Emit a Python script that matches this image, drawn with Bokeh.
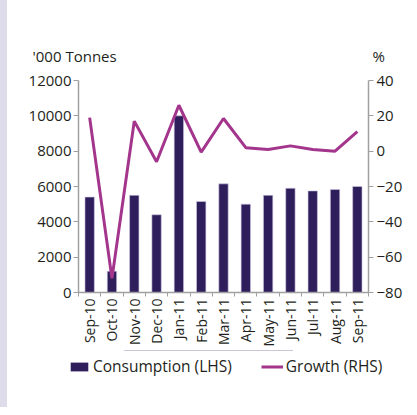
import math
from bokeh.plotting import figure
from bokeh.layouts import column, row
from bokeh.models import (Range1d, LinearAxis, FixedTicker, Legend, LegendItem,
                          ColumnDataSource, Label, Spacer)
from bokeh.embed import file_html
from bokeh.resources import INLINE

months = ["Sep-10", "Oct-10", "Nov-10", "Dec-10", "Jan-11", "Feb-11", "Mar-11",
          "Apr-11", "May-11", "Jun-11", "Jul-11", "Aug-11", "Sep-11"]
consumption = [5400, 1200, 5500, 4400, 10000, 5150, 6150, 5000, 5500, 5900, 5750, 5830, 6000]
growth = [19, -72, 17, -6, 26, -0.5, 18.5, 2, 1, 3, 1, 0, 11]
left_ticks = [0, 2000, 4000, 6000, 8000, 10000, 12000]
right_ticks = [-80, -60, -40, -20, 0, 20, 40]
left_title = "'000 Tonnes"
right_title = "%"
series_names = ["Consumption (LHS)", "Growth (RHS)"]

FONT = "Open Sans"
TXT = "#231f20"
AX = "#a0a0a0"
BAR = "#2f1e5c"
LINE = "#a3358c"
W = 402

# ---------- top strip with the two axis titles ----------
top = figure(width=W, height=70, output_backend="svg", toolbar_location=None,
             x_range=Range1d(0, W), y_range=Range1d(0, 70),
             x_axis_location=None, y_axis_location=None, min_border=0)
top.grid.visible = False
top.outline_line_color = None
top.add_layout(Label(x=25, y=15, text=left_title, text_font=FONT,
                     text_font_size="15px", text_color=TXT,
                     text_baseline="middle", text_align="left"))
top.add_layout(Label(x=365, y=15, text=right_title, text_font=FONT,
                     text_font_size="15px", text_color=TXT,
                     text_baseline="middle", text_align="left"))

# ---------- main chart ----------
xs = [i + 0.5 for i in range(len(months))]
src = ColumnDataSource(dict(x=xs, c=consumption, g=growth))

p = figure(frame_width=290, frame_height=212, output_backend="svg", toolbar_location=None,
           x_range=Range1d(0, len(months)), y_range=Range1d(0, 12000),
           min_border_left=71, min_border_right=41, min_border_top=10,
           min_border_bottom=58)
p.extra_y_ranges = {"pct": Range1d(-80, 40)}
p.grid.visible = False
p.outline_line_color = None

p.vbar(x="x", top="c", width=0.42, source=src, fill_color=BAR,
       line_color="#cfc8e0", line_width=0.6)
p.line(x="x", y="g", source=src, y_range_name="pct", line_color=LINE, line_width=3)

xa = p.xaxis[0]
xa.ticker = FixedTicker(ticks=xs, minor_ticks=list(range(len(months) + 1)))
xa.major_label_overrides = {x: m for x, m in zip(xs, months)}
xa.major_label_orientation = math.pi / 2
xa.major_tick_line_color = None
xa.major_tick_out = 4
xa.major_tick_in = 0
xa.minor_tick_out = 4
xa.minor_tick_in = 0
xa.minor_tick_line_color = AX
xa.axis_line_color = AX
xa.axis_line_width = 1.5
xa.major_label_text_font = FONT
xa.major_label_text_font_size = "14px"
xa.major_label_text_color = TXT
xa.major_label_standoff = 2

ya = p.yaxis[0]
ya.ticker = FixedTicker(ticks=left_ticks)
ya.minor_tick_line_color = None
ya.major_tick_out = 5
ya.major_tick_in = 0
ya.major_tick_line_color = AX
ya.axis_line_color = AX
ya.axis_line_width = 1.5
ya.major_label_text_font = FONT
ya.major_label_text_font_size = "15px"
ya.major_label_text_color = TXT
ya.major_label_standoff = 2

ra = LinearAxis(y_range_name="pct", ticker=FixedTicker(ticks=right_ticks))
ra.minor_tick_line_color = None
ra.major_tick_out = 5
ra.major_tick_in = 0
ra.major_tick_line_color = AX
ra.axis_line_color = AX
ra.axis_line_width = 1.5
ra.major_label_text_font = FONT
ra.major_label_text_font_size = "15px"
ra.major_label_text_color = TXT
ra.major_label_standoff = 3
p.add_layout(ra, "right")

# ---------- legend strip (series renderers kept out of view; only the legend shows) ----------
leg = figure(width=W, height=57, output_backend="svg", toolbar_location=None,
             x_range=Range1d(0, 1), y_range=Range1d(-1000, -999),
             x_axis_location=None, y_axis_location=None, min_border=0)
leg.grid.visible = False
leg.outline_line_color = None
sw_bar = leg.vbar(x="x", top="c", width=0.42, source=src, fill_color=BAR, line_color=None)
sw_line = leg.line(x="x", y="g", source=src, line_color=LINE, line_width=3)
legend = Legend(items=[LegendItem(label=series_names[0], renderers=[sw_bar]),
                       LegendItem(label=series_names[1], renderers=[sw_line])],
                orientation="horizontal", location=(61, 30),
                border_line_color=None, background_fill_alpha=0,
                label_text_font=FONT, label_text_font_size="15.5px",
                label_text_color=TXT, glyph_width=22, glyph_height=11,
                spacing=29, padding=4, margin=0, label_standoff=3)
leg.add_layout(legend, "center")

strip = Spacer(width=7, height=407, styles={"background-color": "#dedbea"})
layout = row(strip, column(top, row(p, spacing=0), leg, spacing=0), spacing=0)

open("out.html", "w").write(file_html(layout, INLINE))
